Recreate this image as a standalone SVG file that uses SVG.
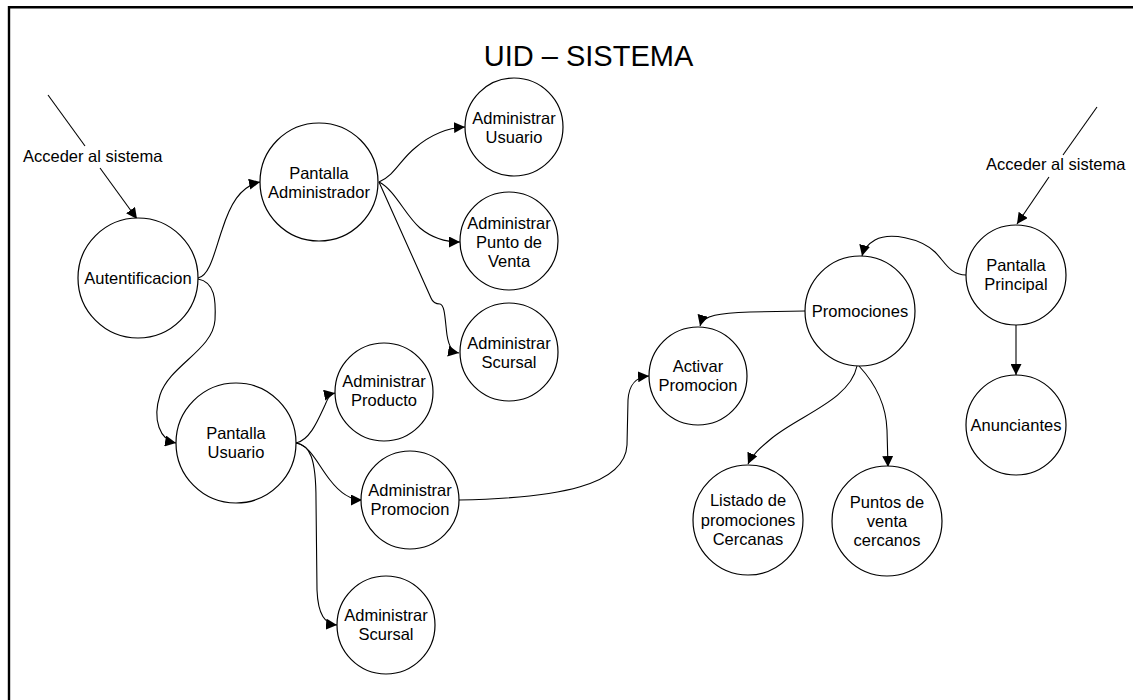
<svg xmlns="http://www.w3.org/2000/svg" width="1133" height="700" viewBox="0 0 1133 700">
<defs>
<marker id="arr" viewBox="0 0 10 10" refX="10" refY="5" markerWidth="11" markerHeight="11" markerUnits="userSpaceOnUse" orient="auto">
<path d="M0,0 L10,5 L0,10 Z" fill="#000"/>
</marker>
<style>
.n circle{fill:#fff;stroke:#000;stroke-width:1.2}
.n text,.lbl{font-family:"Liberation Sans",Arial,sans-serif;font-size:16.5px;fill:#000;text-anchor:middle}
.lbl{font-size:16.5px;text-anchor:start}
.c path{fill:none;stroke:#000;stroke-width:1.1}
.c .a{marker-end:url(#arr)}
</style>
</defs>
<rect width="1133" height="700" fill="#fff"/>
<path d="M9,700 L9,7.2 L1133,7.2" fill="none" stroke="#000" stroke-width="2.4"/>
<text x="588.5" y="66" font-family="'Liberation Sans',Arial,sans-serif" font-size="29" text-anchor="middle">UID – SISTEMA</text>

<g class="c" id="connectors">
<path d="M48,95 L85,146"/>
<path class="a" d="M100,168 L137,219"/>
<path d="M1097,107 L1063,155"/>
<path class="a" d="M1049,177 L1017,224"/>
<path class="a" d="M198,278 C210,276 215,250 222,230 C230,205 240,186 260,182"/>
<path class="a" d="M198,279 C215,282 216,300 215,320 C213,350 170,365 160,395 C152,420 160,440 176,443"/>
<path class="a" d="M379,182 C395,175 400,160 415,148 C430,135 445,128 465,127"/>
<path class="a" d="M379,182 C395,190 405,215 420,228 C432,238 445,242 460,242"/>
<path class="a" d="M379,182 L431,298 C433,303 436,304 440,304 C445,305 445,320 447,335 C449,348 453,352 459,353"/>
<path class="a" d="M296,443 C310,440 318,420 325,405 C328,398 330,394 335,393"/>
<path class="a" d="M296,443 C310,445 318,465 330,480 C340,493 350,500 362,500"/>
<path class="a" d="M296,443 C310,445 316,458 316,500 L317,590 C318,615 325,624 337,625"/>
<path class="a" d="M459,500 C560,498 625,485 627,445 L628,400 C629,385 635,377 649,376"/>
<path class="a" d="M805,311 L750,312 C720,313 703,315 700,326"/>
<path class="a" d="M857,366 C850,400 800,415 772,438 C760,448 752,455 748,464"/>
<path class="a" d="M859,366 C872,380 886,400 887,430 L888,467"/>
<path class="a" d="M966,275 C950,275 945,262 935,252 C920,238 890,232 875,240 C868,244 864,248 862,256"/>
<path class="a" d="M1016,325 L1016,375"/>
</g>

<text class="lbl" x="23" y="162">Acceder al sistema</text>
<text class="lbl" x="986" y="170">Acceder al sistema</text>

<g class="n" id="autentificacion"><circle cx="138" cy="278" r="60"/><text x="138" y="284">Autentificacion</text></g>
<g class="n" id="pantalla-administrador"><circle cx="319" cy="182" r="59"/><text x="319" y="179">Pantalla</text><text x="319" y="198">Administrador</text></g>
<g class="n" id="administrar-usuario"><circle cx="514" cy="127" r="49"/><text x="514" y="124">Administrar</text><text x="514" y="143">Usuario</text></g>
<g class="n" id="administrar-punto-venta"><circle cx="509" cy="241" r="49"/><text x="509" y="229">Administrar</text><text x="509" y="248">Punto de</text><text x="509" y="267">Venta</text></g>
<g class="n" id="administrar-scursal-1"><circle cx="509" cy="352" r="49"/><text x="509" y="349">Administrar</text><text x="509" y="368">Scursal</text></g>
<g class="n" id="pantalla-usuario"><circle cx="236" cy="443" r="60"/><text x="236" y="439">Pantalla</text><text x="236" y="458">Usuario</text></g>
<g class="n" id="administrar-producto"><circle cx="384" cy="392" r="49"/><text x="384" y="387">Administrar</text><text x="384" y="406">Producto</text></g>
<g class="n" id="administrar-promocion"><circle cx="410" cy="500" r="49"/><text x="410" y="496">Administrar</text><text x="410" y="515">Promocion</text></g>
<g class="n" id="administrar-scursal-2"><circle cx="386" cy="625" r="49"/><text x="386" y="621">Administrar</text><text x="386" y="640">Scursal</text></g>
<g class="n" id="activar-promocion"><circle cx="698" cy="376" r="49"/><text x="698" y="372">Activar</text><text x="698" y="391">Promocion</text></g>
<g class="n" id="promociones"><circle cx="860" cy="311" r="55"/><text x="860" y="317">Promociones</text></g>
<g class="n" id="listado-promociones"><circle cx="748" cy="520" r="55"/><text x="748" y="506">Listado de</text><text x="748" y="526">promociones</text><text x="748" y="545">Cercanas</text></g>
<g class="n" id="puntos-venta"><circle cx="887" cy="521" r="55"/><text x="887" y="508">Puntos de</text><text x="887" y="527">venta</text><text x="887" y="546">cercanos</text></g>
<g class="n" id="pantalla-principal"><circle cx="1016" cy="275" r="50"/><text x="1016" y="271">Pantalla</text><text x="1016" y="290">Principal</text></g>
<g class="n" id="anunciantes"><circle cx="1016" cy="425" r="50"/><text x="1016" y="431">Anunciantes</text></g>
</svg>
